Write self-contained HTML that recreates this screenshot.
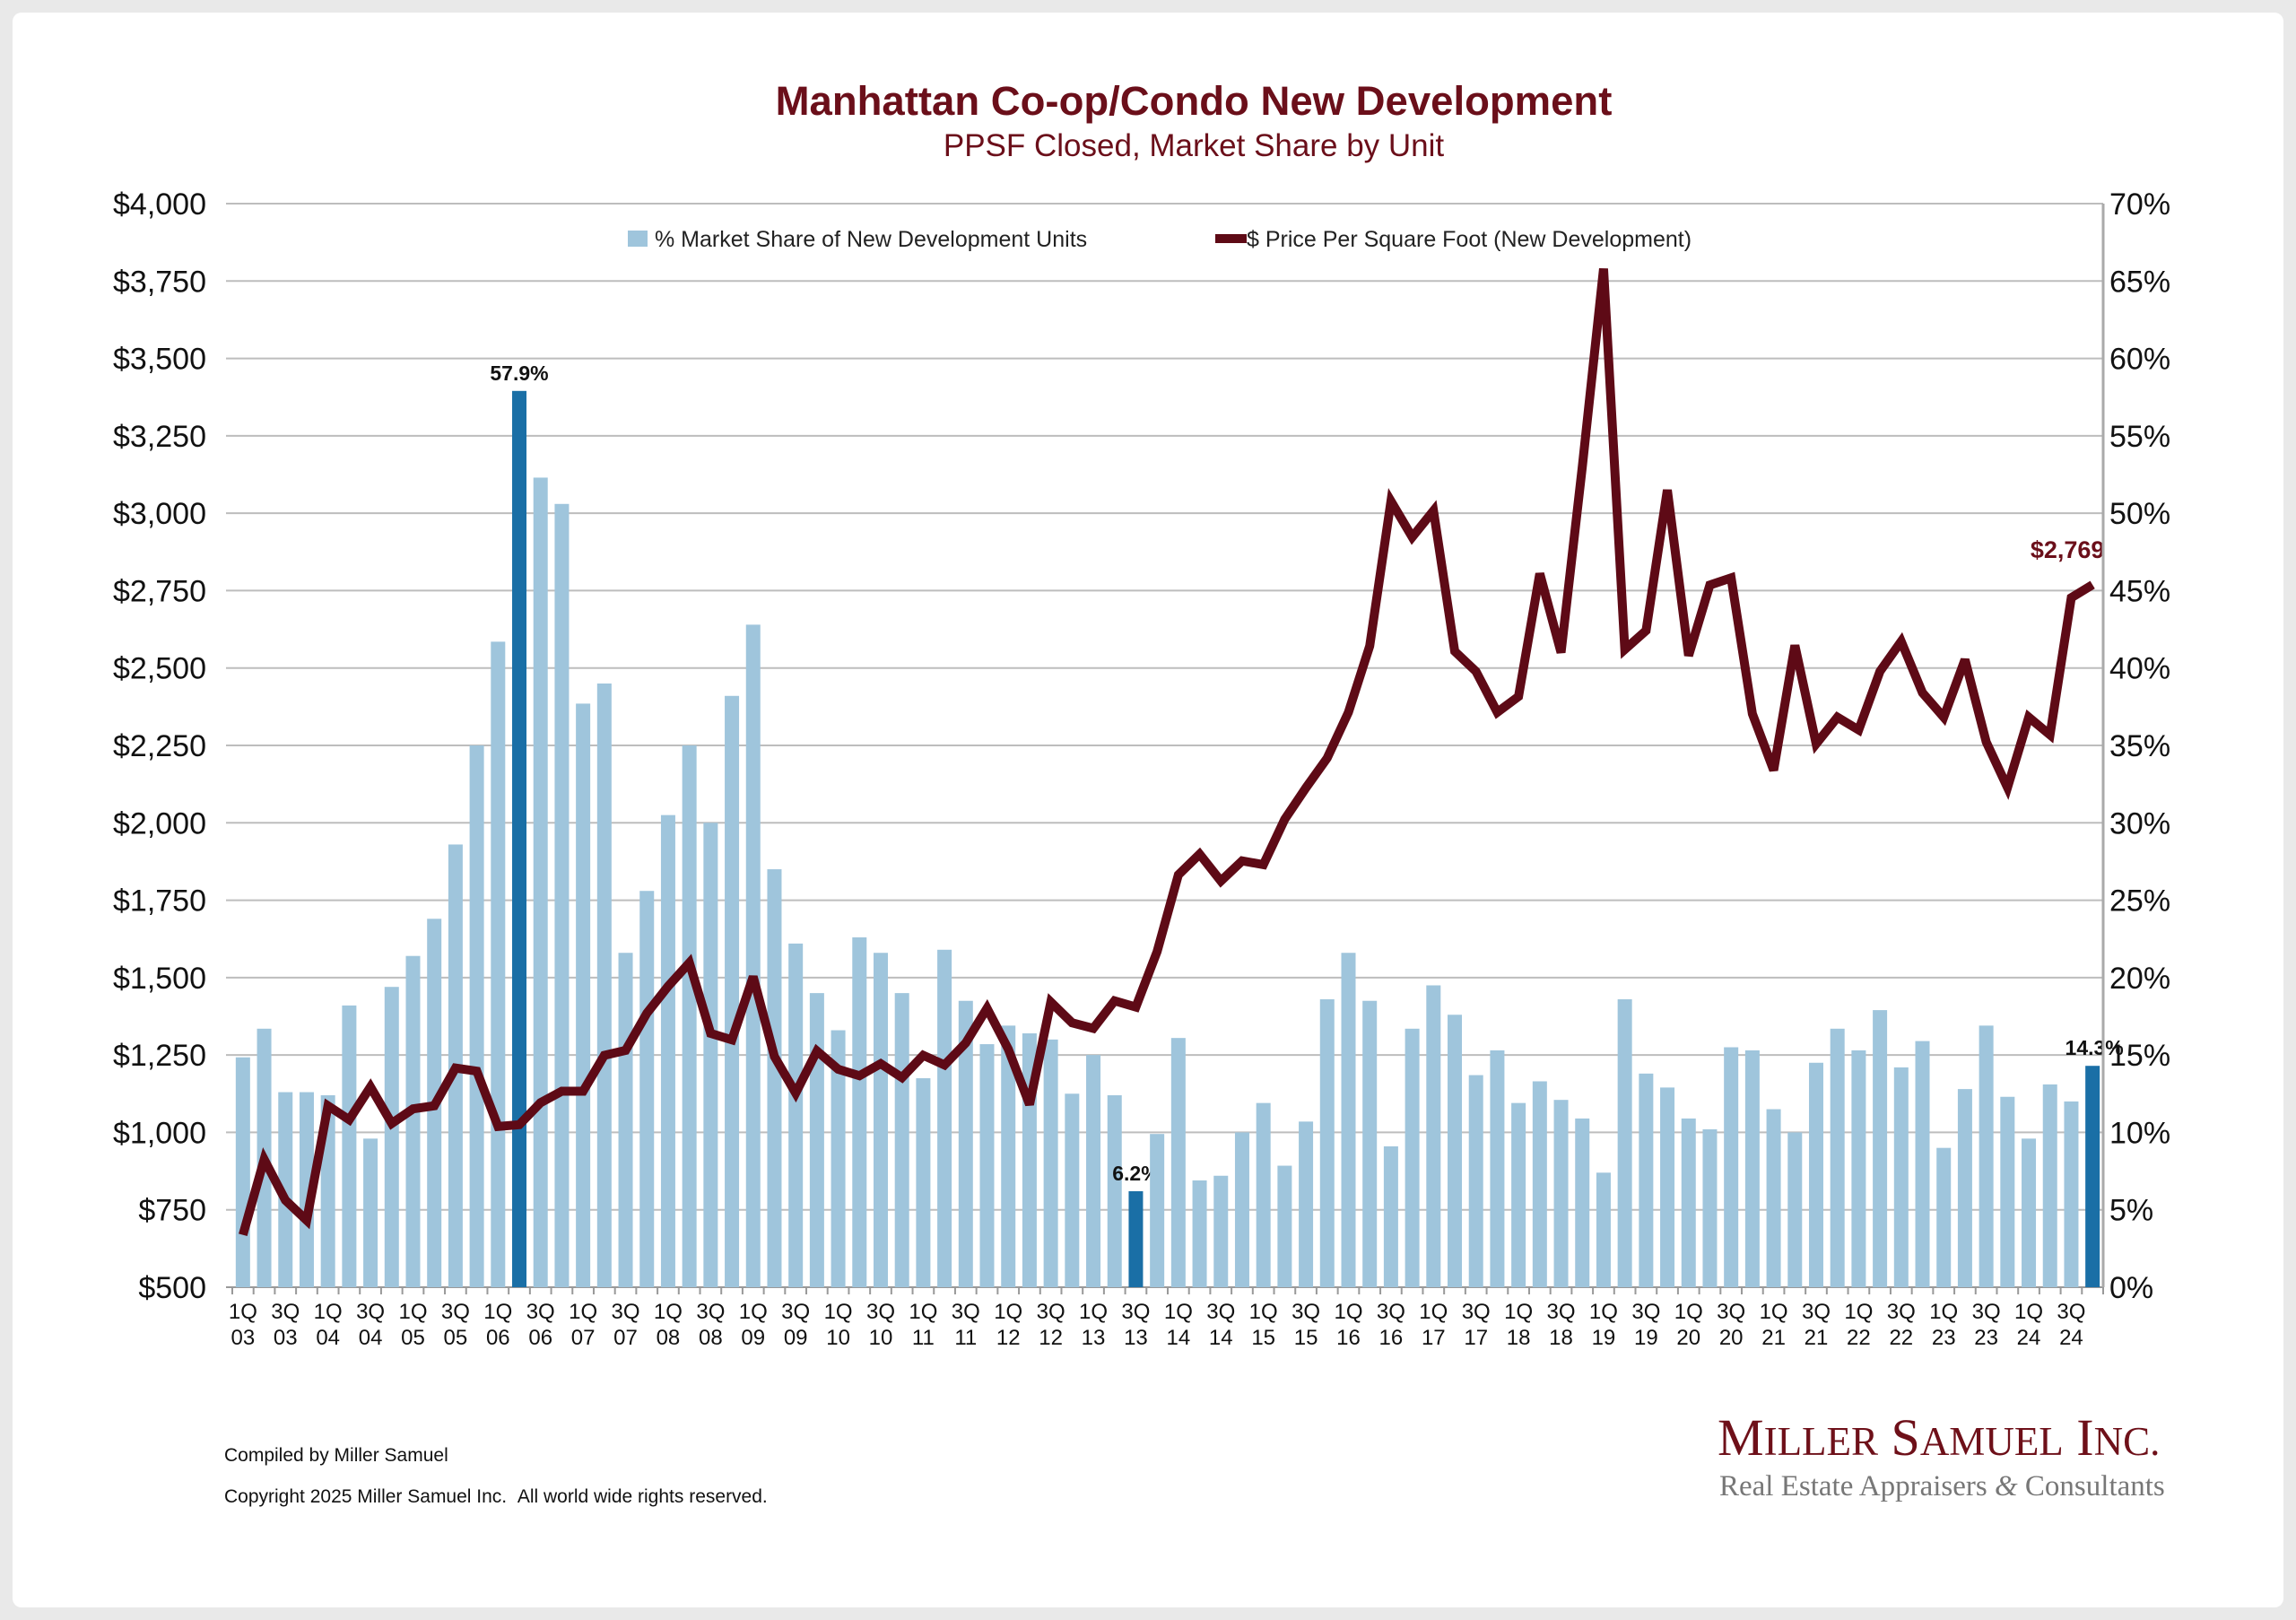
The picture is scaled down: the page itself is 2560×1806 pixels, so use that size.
<!DOCTYPE html>
<html><head><meta charset="utf-8">
<style>
html,body{margin:0;padding:0;background:#e9e9e9;}
#wrap{position:relative;width:2560px;height:1806px;overflow:hidden;}
#panel{position:absolute;left:14px;top:14px;width:2532px;height:1778px;background:#fff;border-radius:10px;}
svg{position:absolute;left:0;top:0;}
text{font-family:"Liberation Sans",Arial,sans-serif;}
text.serif{font-family:"Liberation Serif",serif;}
</style></head>
<body>
<div id="wrap">
<div id="panel"></div>
<svg id="chart" width="2560" height="1806">
<text x="1331" y="128" text-anchor="middle" font-size="45.5" font-weight="bold" fill="#6b0f1a">Manhattan Co-op/Condo New Development</text>
<text x="1331" y="174" text-anchor="middle" font-size="35" fill="#6b0f1a">PPSF Closed, Market Share by Unit</text>
<g id="grid"></g>
<g id="bars"></g>
<g id="line"></g>
<g id="axes"></g>
<g>
<rect x="700" y="257" width="22" height="18" fill="#9fc5dc"/>
<text x="730" y="275" font-size="25" fill="#222">% Market Share of New Development Units</text>
<line x1="1355" y1="266" x2="1390" y2="266" stroke="#5e0a16" stroke-width="10"/>
<text x="1390" y="275" font-size="25" fill="#222">$ Price Per Square Foot (New Development)</text>
</g>
<text x="250" y="1629" font-size="21" fill="#111">Compiled by Miller Samuel</text>
<text x="250" y="1675" font-size="21" fill="#111" xml:space="preserve">Copyright 2025 Miller Samuel Inc.&#160;&#160;All world wide rights reserved.</text>
<text class="serif" x="1915" y="1622" font-size="58" fill="#6e1019">M<tspan font-size="45">ILLER</tspan> S<tspan font-size="45">AMUEL</tspan> I<tspan font-size="45">NC.</tspan></text>
<text class="serif" x="1917" y="1667" font-size="33" fill="#777">Real Estate Appraisers <tspan font-style="italic">&amp;</tspan> Consultants</text>
</svg>
</div>
<script>
const share = [14.85,16.7,12.6,12.6,12.4,18.2,9.6,19.4,21.4,23.8,28.6,35.0,41.7,57.9,52.3,50.6,37.7,39.0,21.6,25.6,30.5,35.0,30.0,38.2,42.8,27.0,22.2,19.0,16.6,22.6,21.6,19.0,13.5,21.8,18.5,15.7,16.9,16.4,16.0,12.5,15.0,12.4,6.2,9.9,16.1,6.9,7.2,10.0,11.9,7.85,10.7,18.6,21.6,18.5,9.1,16.7,19.5,17.6,13.7,15.3,11.9,13.3,12.1,10.9,7.4,18.6,13.8,12.9,10.9,10.2,15.5,15.3,11.5,10.0,14.5,16.7,15.3,17.9,14.2,15.9,9.0,12.8,16.9,12.3,9.6,13.1,12.0,14.3];
const ppsf = [669,913,781,716,1086,1041,1147,1029,1076,1086,1208,1198,1019,1025,1096,1133,1133,1249,1265,1385,1472,1548,1320,1299,1503,1245,1127,1263,1204,1183,1222,1177,1249,1218,1289,1401,1269,1090,1421,1354,1336,1425,1405,1584,1832,1899,1812,1877,1865,2011,2113,2209,2357,2571,3039,2923,3008,2554,2489,2357,2408,2805,2550,3150,3790,2560,2621,3075,2540,2768,2791,2352,2170,2573,2255,2341,2300,2489,2586,2420,2341,2527,2261,2114,2341,2284,2727,2769];
const highlighted = [13,42,87];
const leftTicks = ["$500","$750","$1,000","$1,250","$1,500","$1,750","$2,000","$2,250","$2,500","$2,750","$3,000","$3,250","$3,500","$3,750","$4,000"];
const rightTicks = ["0%","5%","10%","15%","20%","25%","30%","35%","40%","45%","50%","55%","60%","65%","70%"];
const startYear = 3;

const NS="http://www.w3.org/2000/svg";
const X0=259, X1=2345, Y0=1435, Y1=227;
const n=share.length, step=(X1-X0)/n;
const xc=i=>X0+step*(i+0.5);
const yPct=p=>Y0-(p/70)*(Y0-Y1);
const yUsd=v=>Y0-((v-500)/3500)*(Y0-Y1);
function mk(tag,attrs,parent){const e=document.createElementNS(NS,tag);for(const k in attrs)e.setAttribute(k,attrs[k]);parent.appendChild(e);return e;}
const grid=document.getElementById('grid'),axes=document.getElementById('axes'),bars=document.getElementById('bars'),line=document.getElementById('line');
for(let k=0;k<leftTicks.length;k++){
  const y=yPct(k*5);
  const g=mk('line',{x1:252,x2:X1,y1:y,y2:y,stroke:k==0?'#999':'#bdbdbd','stroke-width':2},grid);
  
  
  const tl=mk('text',{x:230,y:y+12,'text-anchor':'end','font-size':34,fill:'#111'},axes);
  tl.textContent=leftTicks[k];
  
  
  const tr=mk('text',{x:2352,y:y+12,'font-size':34,fill:'#111'},axes);
  tr.textContent=rightTicks[k];
  
  
}
const ax=mk('line',{x1:X1,x2:X1,y1:Y1,y2:Y0,stroke:'#aaa','stroke-width':3},axes);


for(let i=0;i<=n;i++){
  const t=mk('line',{x1:X0+step*i,x2:X0+step*i,y1:Y0,y2:Y0+8,stroke:'#999','stroke-width':2},axes);
  
  
}
for(let i=0;i<n;i++){
  const hl=highlighted.includes(i);
  const r=mk('rect',{x:xc(i)-8,y:yPct(share[i]),width:16,height:Y0-yPct(share[i]),fill:hl?'#1a6fa6':'#9fc5dc'},bars);
  
  
  if(i%2==0){
    const q=(i%4)+1, yr=startYear+Math.floor(i/4);
    const t1=mk('text',{x:xc(i),y:1470,'text-anchor':'middle','font-size':24,fill:'#111'},axes);
    t1.textContent=q+'Q';
    
    
    const t2=mk('text',{x:xc(i),y:1499,'text-anchor':'middle','font-size':24,fill:'#111'},axes);
    t2.textContent=String(yr).padStart(2,'0');
    
    
  }
  if(hl){
    const lb=mk('text',{x:xc(i)+(i==n-1?2:0),y:yPct(share[i])-12,'text-anchor':'middle','font-size':23,'font-weight':'bold',fill:'#111'},bars);
    lb.textContent=share[i].toFixed(1)+'%';
    
    
  }
}
const pts=ppsf.map((v,i)=>xc(i)+','+yUsd(v)).join(' ');
const pl=mk('polyline',{points:pts,fill:'none',stroke:'#5e0a16','stroke-width':10,'stroke-linejoin':'miter','stroke-miterlimit':3},line);


const last=ppsf[n-1];
const ll=mk('text',{x:xc(n-1)-28,y:yUsd(last)-30,'text-anchor':'middle','font-size':27,'font-weight':'bold',fill:'#6b0f1a'},line);
ll.textContent='$'+last.toLocaleString('en-US');


</script>
</body></html>
